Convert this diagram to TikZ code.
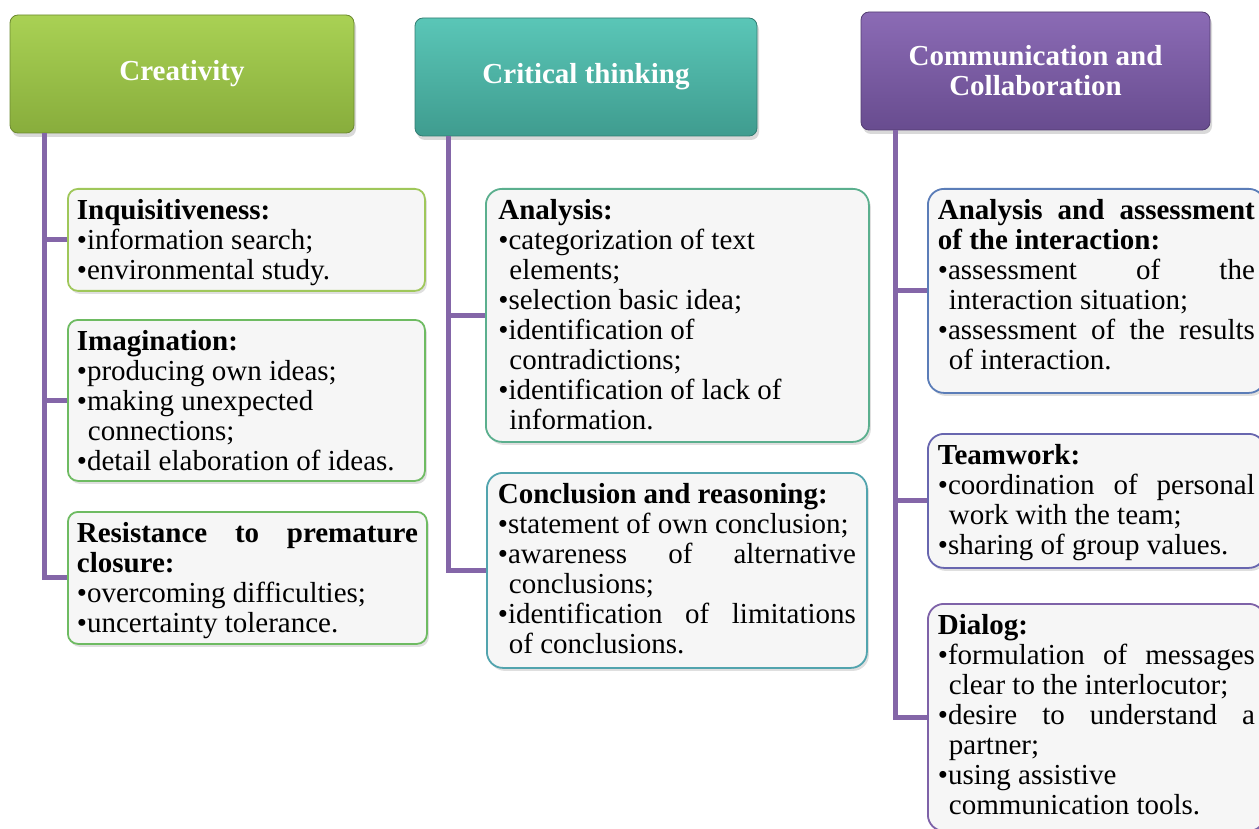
\documentclass[tikz,border=0pt]{standalone}
\usepackage{fontspec}
\setmainfont{Liberation Serif}
\usetikzlibrary{calc,shadows}

\definecolor{creA}{HTML}{A9D154}
\definecolor{creB}{HTML}{88AD3C}
\definecolor{crtA}{HTML}{5AC6B7}
\definecolor{crtB}{HTML}{3F9C8F}
\definecolor{comA}{HTML}{8B6BB5}
\definecolor{comB}{HTML}{684C8F}
\definecolor{linkcol}{HTML}{8466A8}
\definecolor{boxbg}{HTML}{F6F6F6}
\definecolor{inqcol}{HTML}{9FC75A}
\definecolor{imgcol}{HTML}{6EBB62}
\definecolor{anacol}{HTML}{5BAF8E}
\definecolor{concol}{HTML}{52A4AE}
\definecolor{asscol}{HTML}{5B7DB8}
\definecolor{teamcol}{HTML}{6866AF}
\definecolor{dialcol}{HTML}{7E62A8}

\newcommand{\jl}[1]{\makebox[\hsize][s]{#1}}
\newcommand{\hi}{\hspace*{11pt}}

\begin{document}
\begin{tikzpicture}[x=1pt,y=-1pt,
	hdr/.style={top color=#1A, bottom color=#1B, draw=#1B!80!black, line width=0.8pt, rounded corners=8pt, minimum height=118pt, text=white, align=center, font=\fontsize{29}{30}\selectfont\bfseries, execute at begin node={\spaceskip=0pt\xspaceskip=0pt}, drop shadow={shadow xshift=2pt,shadow yshift=-4pt,opacity=0.3}},
	box/.style 2 args={draw=#1, line width=1.8pt, fill=boxbg, rounded corners=10pt, anchor=north west, align=left, inner xsep=9pt, inner ysep=0pt, font=\fontsize{29}{30}\selectfont, execute at begin node={\spaceskip=0pt\xspaceskip=0pt\rule{0pt}{31pt}}, execute at end node={\rule[-#2]{0pt}{0pt}}, drop shadow={shadow xshift=2pt,shadow yshift=-3pt,opacity=0.25}},
	link/.style={draw=linkcol, line width=5pt}]
	\useasboundingbox (0,0) rectangle (1259,829);
	\node[hdr=cre, minimum width=344pt] (cre) at (182,74) {Creativity};
	\node[hdr=crt, minimum width=342pt] (crt) at (586,77) {Critical thinking};
	\node[hdr=com, minimum width=349pt] (com) at (1035.5,71) {Communication and\\Collaboration};
	\node[box={inqcol}{11pt}, text width=339pt] (inq) at (67,188) {\textbf{Inquisitiveness:}\\•information search;\\•environmental study.};
	\node[box={imgcol}{10pt}, text width=339pt] (ima) at (67,319) {\textbf{Imagination:}\\•producing own ideas;\\•making unexpected\\\hi connections;\\•detail elaboration of ideas.};
	\node[box={imgcol}{11pt}, text width=341pt] (res) at (67,511) {\jl{\bfseries Resistance to premature}\\\textbf{closure:}\\•overcoming difficulties;\\•uncertainty tolerance.};
	\node[box={anacol}{12pt}, text width=358pt, inner xsep=12.5pt, rounded corners=16pt] (ana) at (485,188) {\textbf{Analysis:}\\•categorization of text\\\hi elements;\\•selection basic idea;\\•identification of\\\hi contradictions;\\•identification of lack of\\\hi information.};
	\node[box={concol}{14pt}, text width=358pt, inner xsep=11pt, rounded corners=16pt] (con) at (486,472) {\textbf{Conclusion and reasoning:}\\\mbox{•statement of own conclusion;}\\\jl{•awareness of alternative}\\\hi conclusions;\\\jl{•identification of limitations}\\\hi of conclusions.};
	\node[box={asscol}{23pt}, text width=317pt, inner xsep=10pt, rounded corners=16pt] (ass) at (927,188) {\jl{\bfseries Analysis and assessment}\\\textbf{of the interaction:}\\\jl{•assessment of the}\\\hi interaction situation;\\\jl{•assessment of the results}\\\hi of interaction.};
	\node[box={teamcol}{13pt}, text width=317pt, inner xsep=10pt, rounded corners=16pt] (team) at (927,433) {\textbf{Teamwork:}\\\jl{•coordination of personal}\\\hi work with the team;\\•sharing of group values.};
	\node[box={dialcol}{16pt}, text width=317pt, inner xsep=10pt, rounded corners=16pt] (dia) at (927,603) {\textbf{Dialog:}\\\jl{•formulation of messages}\\\hi clear to the interlocutor;\\\jl{•desire to understand a}\\\hi partner;\\•using assistive\\\hi communication tools.};
	\draw[link] ($(cre.south west)+(35,0)$) |- (inq.west);
	\draw[link] ($(cre.south west)+(35,0)$) |- (ima.west);
	\draw[link] ($(cre.south west)+(35,0)$) |- (res.west);
	\draw[link] ($(crt.south west)+(34,0)$) |- (ana.west);
	\draw[link] ($(crt.south west)+(34,0)$) |- (con.west);
	\draw[link] ($(com.south west)+(35,0)$) |- (ass.west);
	\draw[link] ($(com.south west)+(35,0)$) |- (team.west);
	\draw[link] ($(com.south west)+(35,0)$) |- (dia.west);
\end{tikzpicture}
\end{document}
